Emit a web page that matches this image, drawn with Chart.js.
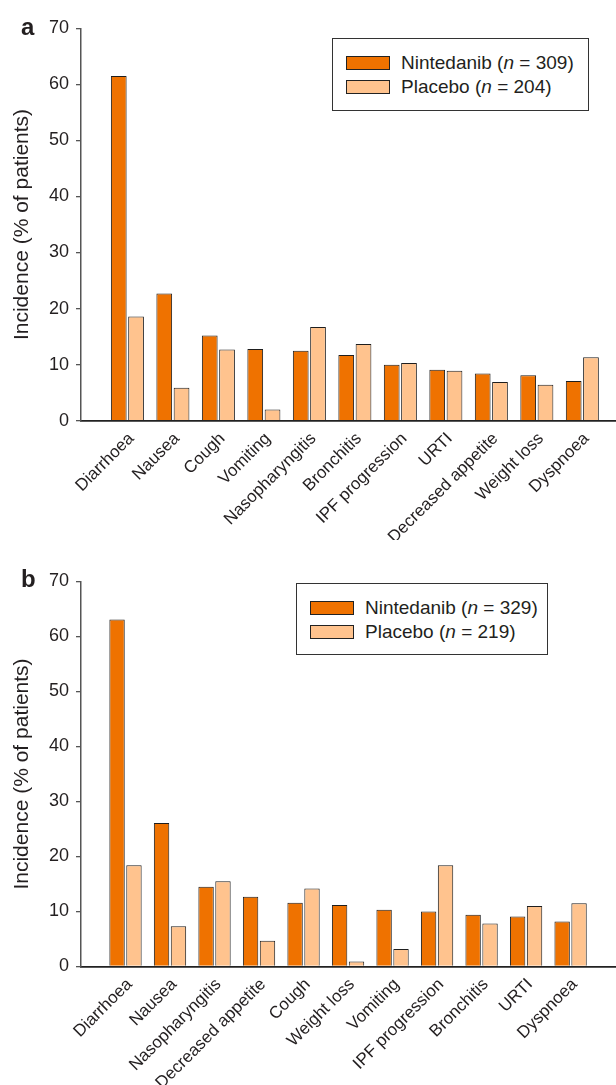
<!DOCTYPE html>
<html>
<head>
<meta charset="utf-8">
<script src="https://cdn.jsdelivr.net/npm/chart.js@4.4.1/dist/chart.umd.min.js"></script>
<style>
    html, body { margin: 0; padding: 0; background: #fff; }
    body {
        width: 616px; height: 1085px; position: relative; overflow: hidden;
        font-family: "Liberation Sans", Arial, sans-serif; color: #231f20;
    }
    .panel { position: absolute; left: 0; width: 616px; }
    #panelA { top: 0; height: 540px; }
    #panelB { top: 540px; height: 545px; }
    .tag { position: absolute; font-weight: bold; font-size: 24px; line-height: 1; }
    .legend { position: absolute; border: 1px solid #333; box-sizing: border-box; background: #fff; }
    .legend .row { position: absolute; left: 13px; height: 24px; display: flex; align-items: center; font-size: 19px; white-space: nowrap; }
    .legend .sw { width: 44px; height: 14px; border: 1px solid #222; box-sizing: border-box; margin-right: 11px; }
</style>
</head>
<body>
<div class="panel" id="panelA">
    <canvas id="chartA"></canvas>
    <div class="tag" style="left:21px;top:15px;">a</div>
    <div class="legend" id="legendA" style="left:332px;top:38px;width:257px;height:73px;"></div>
</div>
<div class="panel" id="panelB">
    <canvas id="chartB"></canvas>
    <div class="tag" style="left:21px;top:27px;">b</div>
    <div class="legend" id="legendB" style="left:296px;top:43px;width:252px;height:72px;"></div>
</div>
<script>
// Panel a data
const categoriesA = ['Diarrhoea', 'Nausea', 'Cough', 'Vomiting', 'Nasopharyngitis', 'Bronchitis',
    'IPF progression', 'URTI', 'Decreased appetite', 'Weight loss', 'Dyspnoea'];
const nintedanibA = [61.5, 22.7, 15.2, 12.8, 12.5, 11.7, 10.0, 9.1, 8.4, 8.1, 7.1];
const placeboA = [18.6, 5.9, 12.7, 2.0, 16.7, 13.7, 10.3, 8.9, 6.9, 6.4, 11.3];
const patientsA = [309, 204];

// Panel b data
const categoriesB = ['Diarrhoea', 'Nausea', 'Nasopharyngitis', 'Decreased appetite', 'Cough', 'Weight loss',
    'Vomiting', 'IPF progression', 'Bronchitis', 'URTI', 'Dyspnoea'];
const nintedanibB = [63.1, 26.1, 14.5, 12.7, 11.6, 11.2, 10.3, 10.0, 9.4, 9.1, 8.2];
const placeboB = [18.4, 7.3, 15.5, 4.7, 14.2, 0.9, 3.2, 18.4, 7.8, 11.0, 11.5];
const patientsB = [329, 219];

const seriesNames = ['Nintedanib', 'Placebo'];
const seriesColors = ['#ef7200', '#ffc38e'];
const yTitle = 'Incidence (% of patients)';
const yMax = 70;
const yStep = 10;

const textColor = '#231f20';
const fontFamily = '"Liberation Sans", Arial, sans-serif';

function buildLegend(el, counts) {
    seriesNames.forEach((name, i) => {
        const row = document.createElement('div');
        row.className = 'row';
        row.style.top = (i === 0 ? 12 : 36) + 'px';
        const sw = document.createElement('div');
        sw.className = 'sw';
        sw.style.background = seriesColors[i];
        const label = document.createElement('span');
        label.innerHTML = name + ' (<i>n</i> = ' + counts[i] + ')';
        row.appendChild(sw);
        row.appendChild(label);
        el.appendChild(row);
    });
}

function makePanel(canvasId, cats, nint, plac, layout) {
    const toPoints = (vals) => vals.map((v, i) => ({ x: i, y: v }));
    return new Chart(document.getElementById(canvasId), {
        type: 'bar',
        data: {
            datasets: [nint, plac].map((vals, i) => ({
                label: seriesNames[i],
                data: toPoints(vals),
                backgroundColor: seriesColors[i],
                borderColor: '#1e1e1e',
                borderWidth: 1,
                categoryPercentage: 0.76,
                barPercentage: 0.91
            }))
        },
        options: {
            responsive: true,
            maintainAspectRatio: false,
            animation: false,
            devicePixelRatio: 1,
            layout: { padding: { top: layout.top, left: 0, right: 0, bottom: 0 } },
            scales: {
                x: {
                    type: 'linear',
                    min: layout.xMin,
                    max: layout.xMax,
                    offset: false,
                    grid: { display: false },
                    border: { display: true, color: '#222', width: 1.8 },
                    afterBuildTicks: (scale) => {
                        scale.ticks = cats.map((_, i) => ({ value: i }));
                    },
                    afterFit: (scale) => { scale.height = layout.xHeight; },
                    ticks: {
                        autoSkip: false,
                        minRotation: 45,
                        maxRotation: 45,
                        padding: 0,
                        labelOffset: 4,
                        color: textColor,
                        font: { family: fontFamily, size: 17 },
                        callback: (value) => cats[value] ?? ''
                    }
                },
                y: {
                    min: 0,
                    max: yMax,
                    grid: { drawOnChartArea: false, drawTicks: true, tickLength: 5, color: '#555', lineWidth: 1.3 },
                    border: { display: true, color: '#555', width: 1.5 },
                    afterFit: (scale) => { scale.width = 81; },
                    ticks: {
                        stepSize: yStep,
                        padding: 7,
                        color: textColor,
                        font: { family: fontFamily, size: 18 }
                    },
                    title: {
                        display: true,
                        text: yTitle,
                        color: textColor,
                        font: { family: fontFamily, size: 21, weight: 'normal' },
                        padding: { top: 10, bottom: 0 }
                    }
                }
            },
            plugins: {
                legend: { display: false },
                tooltip: { enabled: false }
            }
        }
    });
}

buildLegend(document.getElementById('legendA'), patientsA);
buildLegend(document.getElementById('legendB'), patientsB);

makePanel('chartA', categoriesA, nintedanibA, placeboA, { top: 28.3, xHeight: 119.3, xMin: -1.02, xMax: 10.74 });
makePanel('chartB', categoriesB, nintedanibB, placeboB, { top: 41.5, xHeight: 118.5, xMin: -1.0, xMax: 11.02 });
</script>
</body>
</html>
